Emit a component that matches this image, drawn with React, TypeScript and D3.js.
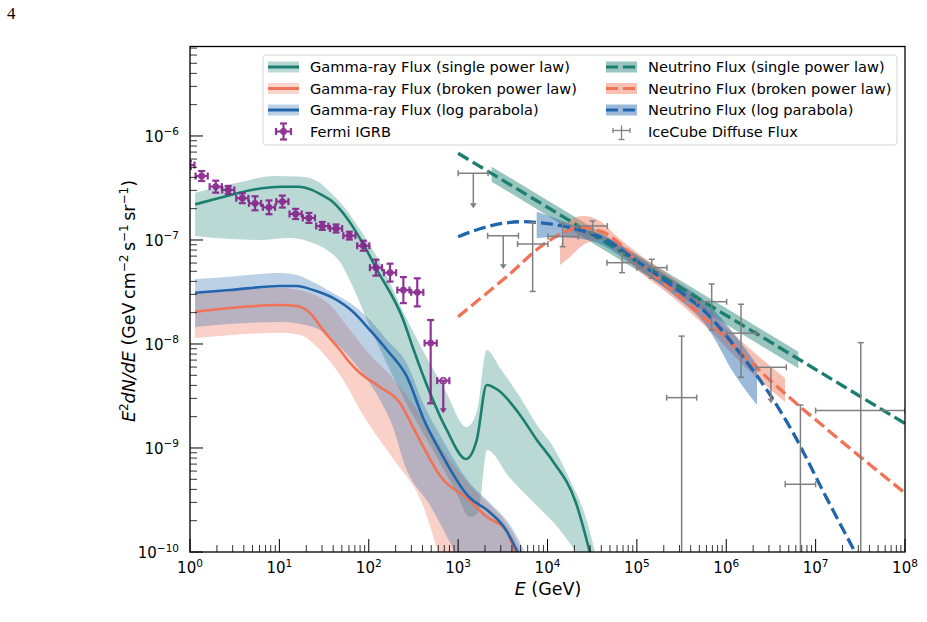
import React, { useEffect, useRef } from 'react';
import * as d3 from 'd3';

// ---- values ----
// Fermi IGRB
const fermiE = [0.96, 1.35, 1.94, 2.68, 3.85, 5.34, 7.65, 10.8, 15.2, 21.4, 30.2, 43.1, 60.7, 86.9, 120.5, 173, 244, 349, 493, 682];
const fermiF = [5.26e-7, 4.12e-7, 3.26e-7, 3.03e-7, 2.52e-7, 2.25e-7, 2.06e-7, 2.34e-7, 1.78e-7, 1.63e-7, 1.36e-7, 1.29e-7, 1.1e-7, 8.8e-8, 5.42e-8, 4.85e-8, 3.3e-8, 3.14e-8, 1.02e-8, 4.44e-9];
const fermiHi = [5.74e-7, 4.6e-7, 3.72e-7, 3.31e-7, 2.81e-7, 2.63e-7, 2.4e-7, 2.67e-7, 1.99e-7, 1.82e-7, 1.49e-7, 1.41e-7, 1.2e-7, 9.83e-8, 6.47e-8, 5.92e-8, 4.4e-8, 4.28e-8, 1.7e-8, 4.44e-9];
const fermiLo = [4.82e-7, 3.69e-7, 2.85e-7, 2.77e-7, 2.26e-7, 1.93e-7, 1.77e-7, 2.05e-7, 1.59e-7, 1.46e-7, 1.25e-7, 1.18e-7, 1.01e-7, 7.88e-8, 4.54e-8, 3.98e-8, 2.47e-8, 2.3e-8, 2.69e-9, 2.16e-9];
const fermiUL = [0, 0, 0, 0, 0, 0, 0, 0, 0, 0, 0, 0, 0, 0, 0, 0, 0, 0, 0, 1];
const fermiBinDex = 0.068;

// IceCube diffuse flux
const icE = [1479, 3199, 6823, 14790, 31990, 68230, 146600, 316900, 687100, 1.462e6, 3.16e6, 6.76e6, 3.2e7];
const icELo = [1000, 2138, 4624, 10120, 21630, 46240, 1e5, 215300, 466700, 1e6, 2.17e6, 4.57e6, 1e7];
const icEHi = [2163, 4732, 10120, 22130, 46770, 1e5, 217300, 466700, 1.01e6, 2.17e6, 4.7e6, 1e7, 1e8];
const icF = [4.38e-7, 1.1e-7, 9.16e-8, 1.08e-7, 1.36e-7, 6.05e-8, 5.42e-8, 3.05e-9, 2.55e-8, 1.27e-8, 5.97e-9, 4.48e-10, 2.29e-9];
const icFHi = [4.38e-7, 1.1e-7, 1.47e-7, 1.45e-7, 1.52e-7, 7.45e-8, 6.52e-8, 1.19e-8, 3.78e-8, 2.41e-8, 5.97e-9, 2.59e-9, 1.03e-8];
const icFLo = [2.02e-7, 5.25e-8, 3.2e-8, 8.63e-8, 1.17e-7, 4.85e-8, 4.29e-8, 1e-11, 1.36e-8, 4.79e-9, 2.69e-9, 1e-11, 1e-11];
const icUL = [1, 1, 0, 0, 0, 0, 0, 0, 0, 0, 1, 0, 0];

// Gamma-ray flux, single power law: [E, F]
const gSingle = [[1.14, 2.2e-7], [2.07, 2.52e-7], [4.9, 3.03e-7], [10.6, 3.25e-7], [16.3, 3.25e-7], [23, 3.03e-7], [29.8, 2.71e-7], [38.5, 2.37e-7], [59, 1.56e-7], [89.2, 8.76e-8], [120.5, 5.38e-8], [243.6, 1.7e-8], [312.7, 9.15e-9], [484.6, 3.38e-9], [745.3, 1.49e-9], [1225, 7.83e-10], [1614, 1.19e-9], [2088, 4.04e-9], [2794, 3.61e-9], [4924, 2.08e-9], [7630, 1.19e-9], [11230, 7.67e-10], [20840, 2.96e-10], [29900, 9.8e-11]];
const gSingleHi = [[1.14, 2.85e-7], [3.19, 3.51e-7], [8.93, 4.12e-7], [17.8, 4.06e-7], [27.3, 3.63e-7], [36.9, 2.89e-7], [54.2, 2.03e-7], [73.9, 1.39e-7], [103.3, 8.95e-8], [152, 4.92e-8], [223.7, 2.37e-8], [374.5, 9.78e-9], [713, 3.61e-9], [1247, 1.59e-9], [1614, 2.22e-9], [2088, 8.75e-9], [2942, 5.88e-9], [4924, 3.09e-9], [7630, 1.66e-9], [11230, 1.07e-9], [17850, 4.92e-10], [26280, 2.27e-10], [34010, 1e-10]];
const gSingleLo = [[1.14, 1.09e-7], [2.8, 1.02e-7], [6.07, 1e-7], [13.1, 1.045e-7], [22, 9.57e-8], [34.1, 8.01e-8], [47.7, 6.14e-8], [66.6, 3.53e-8], [103.3, 1.46e-8], [172.9, 5.62e-9], [289.4, 2.32e-9], [484.6, 1.07e-9], [922.6, 3.95e-10], [1358, 2.17e-10], [1669, 2.37e-10], [2104, 9.57e-10], [3805, 5.15e-10], [7063, 2.96e-10], [13800, 1.63e-10], [20840, 1e-10]];

// Gamma-ray flux, broken power law
const gBroken = [[1.14, 2.04e-8], [2.8, 2.22e-8], [10.15, 2.37e-8], [15.7, 2.32e-8], [22, 1.99e-8], [30.8, 1.36e-8], [47.7, 8.76e-9], [61.7, 6.57e-9], [79.8, 5.26e-9], [133.6, 3.86e-9], [223.7, 2.71e-9], [312.7, 1.59e-9], [643.3, 5.26e-10], [1323, 3.16e-10], [2104, 2.17e-10], [3434, 1.63e-10], [4328, 9.8e-11]];
const gBrokenHi = [[1.14, 3.09e-8], [10.15, 3.46e-8], [22, 3.09e-8], [36.9, 2.37e-8], [61.7, 1.36e-8], [103.3, 7.83e-9], [172.9, 5.03e-9], [289.4, 2.89e-9], [484.6, 1.49e-9], [811, 7.66e-10], [1358, 4.41e-10], [2273, 2.83e-10], [3805, 1.7e-10], [5185, 1e-10]];
const gBrokenLo = [[1.14, 1.14e-8], [10.15, 1.28e-8], [17, 1.22e-8], [28.5, 8.76e-9], [47.7, 5.03e-9], [93.2, 1.86e-9], [191.7, 7.66e-10], [394.3, 2.96e-10], [595.5, 1e-10]];

// Gamma-ray flux, log parabola
const gLogPar = [[1.14, 3.11e-8], [2.8, 3.3e-8], [10.15, 3.61e-8], [15.7, 3.61e-8], [23.8, 3.3e-8], [39.8, 2.77e-8], [66.6, 2.04e-8], [103.3, 1.36e-8], [160, 8.76e-9], [267.9, 4.82e-9], [415.1, 1.86e-9], [643.3, 8.95e-10], [1323, 3.38e-10], [2104, 2.53e-10], [3434, 1.63e-10], [4677, 9.8e-11]];
const gLogParHi = [[1.14, 4.22e-8], [2.8, 4.44e-8], [10.15, 4.82e-8], [15.7, 4.61e-8], [23.8, 3.95e-8], [39.8, 3.09e-8], [66.6, 2.37e-8], [103.3, 1.7e-8], [160, 1.09e-8], [267.9, 6.42e-9], [415.1, 2.59e-9], [643.3, 1.28e-9], [1323, 4.71e-10], [2273, 2.96e-10], [3805, 1.82e-10], [5602, 1e-10]];
const gLogParLo = [[1.14, 1.46e-8], [10.15, 1.63e-8], [23.8, 1.46e-8], [47.7, 9.36e-9], [79.8, 5.62e-9], [133.6, 2.89e-9], [186.7, 1.59e-9], [248, 7.18e-10], [497.3, 2.71e-10], [922.6, 1e-10]];

// Neutrino flux, single power law
const nSingle = [[1000, 6.82e-7], [316200, 3.43e-8], [1e8, 1.72e-9]];
const nSingleHi = [[2371, 5.07e-7], [6.4e6, 8.43e-9]];
const nSingleLo = [[2371, 3.64e-7], [6.4e6, 5.83e-9]];

// Neutrino flux, broken power law
const nBroken = [[1000, 1.83e-8], [3491, 4.44e-8], [10670, 1e-7], [23120, 1.32e-7], [41780, 1.19e-7], [108400, 5.97e-8], [604000, 1.7e-8], [3.365e6, 4.19e-9], [1.875e7, 1.19e-9], [1e8, 3.69e-10]];
const nBrokenE = [13800, 17860, 24950, 38650, 56890, 108400, 255900, 609500, 1.426e6, 4.54e6];
const nBrokenHi = [8.01e-8, 1.56e-7, 1.7e-7, 1.52e-7, 1.12e-7, 7.18e-8, 4.31e-8, 2.22e-8, 1.09e-8, 4.71e-9];
const nBrokenLo = [5.75e-8, 6.87e-8, 8.95e-8, 1e-7, 8.01e-8, 4.92e-8, 2.77e-8, 1.43e-8, 6.71e-9, 2.77e-9];

// Neutrino flux, log parabola
const nLogPar = [[1000, 1.076e-7], [2275, 1.365e-7], [5321, 1.5e-7], [10670, 1.426e-7], [19280, 1.294e-7], [45920, 1e-7], [108400, 5.97e-8], [255900, 3.56e-8], [604000, 1.97e-8], [1.426e6, 8.15e-9], [3.365e6, 2.9e-9], [5.62e6, 1.39e-9], [1.274e7, 3.53e-10], [2.76e7, 1e-10]];
const nLogParE = [7570, 12130, 20320, 38650, 64730, 108400, 255900, 609500, 1.253e6, 2.208e6];
const nLogParHi = [1.87e-7, 1.63e-7, 1.365e-7, 1.14e-7, 8.95e-8, 6.71e-8, 4.12e-8, 2.48e-8, 1.22e-8, 6.28e-9];
const nLogParLo = [1.04e-7, 1.07e-7, 1.045e-7, 9.16e-8, 7.02e-8, 5.15e-8, 2.96e-8, 1.46e-8, 5.03e-9, 2.59e-9];

const xExps = [0, 1, 2, 3, 4, 5, 6, 7, 8];
const yExps = [-10, -9, -8, -7, -6];

const TEAL = '#1b7e6f';
const SALMON = '#f07357';
const BLUE = '#2166ac';
const PURPLE = '#84208a';
const GRAY = '#808080';
const FONT = 'DejaVu Sans, sans-serif';

export default function App() {
  const svgRef = useRef<SVGSVGElement>(null);

  useEffect(() => {
    const svg = d3.select(svgRef.current);
    svg.selectAll('*').remove();

    const x = d3.scaleLog().domain([1, 1e8]).range([190, 905]);
    const y = d3.scaleLog().domain([1e-10, 7.25e-6]).range([552, 46.5]);
    const [px0, px1] = x.range();
    const [py0, py1] = y.range();

    svg.append('defs').append('clipPath').attr('id', 'plot')
      .append('rect').attr('x', px0).attr('y', py1).attr('width', px1 - px0).attr('height', py0 - py1);
    const g = svg.append('g').attr('clip-path', 'url(#plot)');

    const smooth = d3.line<number[]>().x(d => x(d[0])).y(d => y(d[1])).curve(d3.curveMonotoneX);
    const band = (hi: number[][], lo: number[][]) =>
      smooth(hi) + 'L' + (smooth(lo.slice().reverse()) as string).slice(1) + 'Z';
    const zipped = (E: number[], F: number[]) => E.map((e, i) => [e, F[i]]);

    // gamma-ray bands, then their curves
    g.append('path').attr('d', band(gSingleHi, gSingleLo)).attr('fill', TEAL).attr('fill-opacity', 0.3);
    g.append('path').attr('d', band(gBrokenHi, gBrokenLo)).attr('fill', SALMON).attr('fill-opacity', 0.33);
    g.append('path').attr('d', band(gLogParHi, gLogParLo)).attr('fill', BLUE).attr('fill-opacity', 0.3);
    const solid = [[gSingle, TEAL], [gBroken, SALMON], [gLogPar, BLUE]] as [number[][], string][];
    solid.forEach(([data, c]) => {
      g.append('path').attr('d', smooth(data)).attr('fill', 'none').attr('stroke', c).attr('stroke-width', 2.6);
    });

    // neutrino bands and curves
    g.append('path').attr('d', band(nSingleHi, nSingleLo)).attr('fill', TEAL).attr('fill-opacity', 0.45);
    g.append('path').attr('d', band(zipped(nBrokenE, nBrokenHi), zipped(nBrokenE, nBrokenLo))).attr('fill', SALMON).attr('fill-opacity', 0.45);
    g.append('path').attr('d', band(zipped(nLogParE, nLogParHi), zipped(nLogParE, nLogParLo))).attr('fill', BLUE).attr('fill-opacity', 0.45);
    const dashed = [[nSingle, TEAL], [nBroken, SALMON], [nLogPar, BLUE]] as [number[][], string][];
    dashed.forEach(([data, c]) => {
      g.append('path').attr('d', smooth(data)).attr('fill', 'none').attr('stroke', c)
        .attr('stroke-width', 3.3).attr('stroke-dasharray', '12,5');
    });

    const arrowHead = (sel: any, cx: number, cy: number, color: string, s: number) =>
      sel.append('path').attr('d', `M${cx - s},${cy - s * 1.4}L${cx + s},${cy - s * 1.4}L${cx},${cy}Z`)
        .attr('fill', color).attr('stroke', 'none');

    // IceCube points
    icE.forEach((e, i) => {
      const cx = x(e), cy = y(icF[i]);
      const p = g.append('g').attr('stroke', GRAY).attr('stroke-width', 1.5).attr('fill', 'none');
      p.append('line').attr('x1', x(icELo[i])).attr('x2', x(icEHi[i])).attr('y1', cy).attr('y2', cy);
      [icELo[i], icEHi[i]].forEach(v => p.append('line').attr('x1', x(v)).attr('x2', x(v)).attr('y1', cy - 3).attr('y2', cy + 3));
      if (icUL[i]) {
        const yb = y(icFLo[i]);
        p.append('line').attr('x1', cx).attr('x2', cx).attr('y1', cy).attr('y2', yb - 4);
        arrowHead(g, cx, yb, GRAY, 3.5);
      } else {
        const yt = y(icFHi[i]), yb = y(icFLo[i]);
        p.append('line').attr('x1', cx).attr('x2', cx).attr('y1', yt).attr('y2', yb);
        [yt, yb].forEach(v => p.append('line').attr('x1', cx - 3).attr('x2', cx + 3).attr('y1', v).attr('y2', v));
      }
    });

    // Fermi IGRB points
    fermiE.forEach((e, i) => {
      const cx = x(e), cy = y(fermiF[i]);
      const xl = x(e / Math.pow(10, fermiBinDex)), xr = x(e * Math.pow(10, fermiBinDex));
      const p = g.append('g').attr('stroke', PURPLE).attr('stroke-width', 2.2).attr('fill', 'none').attr('opacity', 0.9);
      p.append('line').attr('x1', xl).attr('x2', xr).attr('y1', cy).attr('y2', cy);
      [xl, xr].forEach(v => p.append('line').attr('x1', v).attr('x2', v).attr('y1', cy - 3.5).attr('y2', cy + 3.5));
      if (fermiUL[i]) {
        const yb = y(fermiLo[i]);
        p.append('line').attr('x1', cx).attr('x2', cx).attr('y1', cy).attr('y2', yb - 4);
        arrowHead(p, cx, yb, PURPLE, 3.5);
        p.append('circle').attr('cx', cx).attr('cy', cy).attr('r', 3).attr('stroke-width', 1.5);
      } else {
        const yt = y(fermiHi[i]), yb = y(fermiLo[i]);
        p.append('line').attr('x1', cx).attr('x2', cx).attr('y1', yt).attr('y2', yb);
        [yt, yb].forEach(v => p.append('line').attr('x1', cx - 3.5).attr('x2', cx + 3.5).attr('y1', v).attr('y2', v));
        p.append('circle').attr('cx', cx).attr('cy', cy).attr('r', 3.4).attr('fill', PURPLE).attr('stroke', 'none');
      }
    });

    // ticks (inward, log minors)
    const ax = svg.append('g').attr('stroke', '#000');
    xExps.forEach(k => {
      const v = Math.pow(10, k);
      ax.append('line').attr('x1', x(v)).attr('x2', x(v)).attr('y1', py0).attr('y2', py0 - 13).attr('stroke-width', 1);
      if (k < 8) d3.range(2, 10).forEach(m => {
        ax.append('line').attr('x1', x(m * v)).attr('x2', x(m * v)).attr('y1', py0).attr('y2', py0 - 7).attr('stroke-width', 0.8);
      });
    });
    yExps.forEach(k => {
      const v = Math.pow(10, k);
      ax.append('line').attr('x1', px0).attr('x2', px0 + 13).attr('y1', y(v)).attr('y2', y(v)).attr('stroke-width', 1);
      d3.range(2, 10).forEach(m => {
        if (m * v > y.domain()[1]) return;
        ax.append('line').attr('x1', px0).attr('x2', px0 + 7).attr('y1', y(m * v)).attr('y2', y(m * v)).attr('stroke-width', 0.8);
      });
    });
    svg.append('rect').attr('x', px0).attr('y', py1).attr('width', px1 - px0).attr('height', py0 - py1)
      .attr('fill', 'none').attr('stroke', '#000').attr('stroke-width', 1.3);

    // tick labels
    const powLabel = (sel: any, k: number) => {
      sel.append('tspan').text('10');
      sel.append('tspan').attr('dy', -6.5).attr('font-size', 10.5).text(String(k).replace('-', '\u2212'));
    };
    xExps.forEach(k => {
      const t = svg.append('text').attr('x', x(Math.pow(10, k))).attr('y', 573)
        .attr('text-anchor', 'middle').attr('font-family', FONT).attr('font-size', 15);
      powLabel(t, k);
    });
    yExps.forEach(k => {
      const t = svg.append('text').attr('x', 179).attr('y', y(Math.pow(10, k)) + 6)
        .attr('text-anchor', 'end').attr('font-family', FONT).attr('font-size', 15);
      powLabel(t, k);
    });

    // axis labels
    const xl = svg.append('text').attr('x', 548).attr('y', 595).attr('text-anchor', 'middle')
      .attr('font-family', FONT).attr('font-size', 17.5);
    xl.append('tspan').attr('font-style', 'italic').text('E');
    xl.append('tspan').text(' (GeV)');

    const yl = svg.append('text').attr('transform', 'translate(135,301) rotate(-90)').attr('text-anchor', 'middle')
      .attr('font-family', FONT).attr('font-size', 17.5);
    yl.append('tspan').attr('font-style', 'italic').text('E');
    yl.append('tspan').attr('dy', -7).attr('font-size', 12).text('2');
    yl.append('tspan').attr('dy', 7).attr('font-style', 'italic').text('dN/dE');
    yl.append('tspan').text(' (GeV\u2009cm');
    yl.append('tspan').attr('dy', -7).attr('font-size', 12).text('\u22122');
    yl.append('tspan').attr('dy', 7).text('\u2009s');
    yl.append('tspan').attr('dy', -7).attr('font-size', 12).text('\u22121');
    yl.append('tspan').attr('dy', 7).text('\u2009sr');
    yl.append('tspan').attr('dy', -7).attr('font-size', 12).text('\u22121');
    yl.append('tspan').attr('dy', 7).text(')');

    // legend
    const lg = svg.append('g');
    lg.append('rect').attr('x', 263).attr('y', 55).attr('width', 634).attr('height', 90).attr('rx', 3)
      .attr('fill', '#fff').attr('fill-opacity', 0.8).attr('stroke', '#d6d6d6');
    const rows = [67, 88.5, 110, 131.5];
    const LFS = 14.6;
    const entries = [
      { col: 0, row: 0, c: TEAL, dash: false, label: 'Gamma-ray Flux (single power law)' },
      { col: 0, row: 1, c: SALMON, dash: false, label: 'Gamma-ray Flux (broken power law)' },
      { col: 0, row: 2, c: BLUE, dash: false, label: 'Gamma-ray Flux (log parabola)' },
      { col: 1, row: 0, c: TEAL, dash: true, label: 'Neutrino Flux (single power law)' },
      { col: 1, row: 1, c: SALMON, dash: true, label: 'Neutrino Flux (broken power law)' },
      { col: 1, row: 2, c: BLUE, dash: true, label: 'Neutrino Flux (log parabola)' },
    ];
    const colX = [268, 606];
    entries.forEach(en => {
      const hx = colX[en.col], hy = rows[en.row];
      lg.append('rect').attr('x', hx).attr('y', hy - 5.5).attr('width', 31).attr('height', 11)
        .attr('fill', en.c).attr('fill-opacity', en.dash ? 0.45 : 0.3);
      lg.append('line').attr('x1', hx).attr('x2', hx + 31).attr('y1', hy).attr('y2', hy)
        .attr('stroke', en.c).attr('stroke-width', 3).attr('stroke-dasharray', en.dash ? '12,5' : null);
      lg.append('text').attr('x', hx + 42).attr('y', hy + 5.3).attr('font-family', FONT).attr('font-size', LFS).text(en.label);
    });
    // Fermi handle
    {
      const cx = 283.5, cy = rows[3];
      const p = lg.append('g').attr('stroke', PURPLE).attr('stroke-width', 2.2).attr('opacity', 0.9);
      p.append('line').attr('x1', cx - 7.5).attr('x2', cx + 7.5).attr('y1', cy).attr('y2', cy);
      p.append('line').attr('x1', cx).attr('x2', cx).attr('y1', cy - 8).attr('y2', cy + 8);
      [cx - 7.5, cx + 7.5].forEach(v => p.append('line').attr('x1', v).attr('x2', v).attr('y1', cy - 3.5).attr('y2', cy + 3.5));
      [cy - 8, cy + 8].forEach(v => p.append('line').attr('x1', cx - 3.5).attr('x2', cx + 3.5).attr('y1', v).attr('y2', v));
      p.append('circle').attr('cx', cx).attr('cy', cy).attr('r', 3.4).attr('fill', PURPLE).attr('stroke', 'none');
      lg.append('text').attr('x', 310).attr('y', cy + 5.3).attr('font-family', FONT).attr('font-size', LFS).text('Fermi IGRB');
    }
    // IceCube handle
    {
      const cx = 621.5, cy = rows[3];
      const p = lg.append('g').attr('stroke', GRAY).attr('stroke-width', 1.3);
      p.append('line').attr('x1', cx - 8.5).attr('x2', cx + 8.5).attr('y1', cy - 1).attr('y2', cy - 1);
      p.append('line').attr('x1', cx).attr('x2', cx).attr('y1', cy - 6).attr('y2', cy + 8);
      [cx - 8.5, cx + 8.5].forEach(v => p.append('line').attr('x1', v).attr('x2', v).attr('y1', cy - 3.5).attr('y2', cy + 1.5));
      p.append('line').attr('x1', cx - 3).attr('x2', cx + 3).attr('y1', cy + 8).attr('y2', cy + 8);
      lg.append('text').attr('x', 648).attr('y', cy + 5.3).attr('font-family', FONT).attr('font-size', LFS).text('IceCube Diffuse Flux');
    }

    // page number
    svg.append('text').attr('x', 7).attr('y', 19).attr('font-family', 'Liberation Serif, serif').attr('font-size', 17).text('4');
  }, []);

  return (
    <svg ref={svgRef} width={927} height={622}
      style={{ position: 'absolute', left: 0, top: 0, background: '#fff', display: 'block' }} />
  );
}
